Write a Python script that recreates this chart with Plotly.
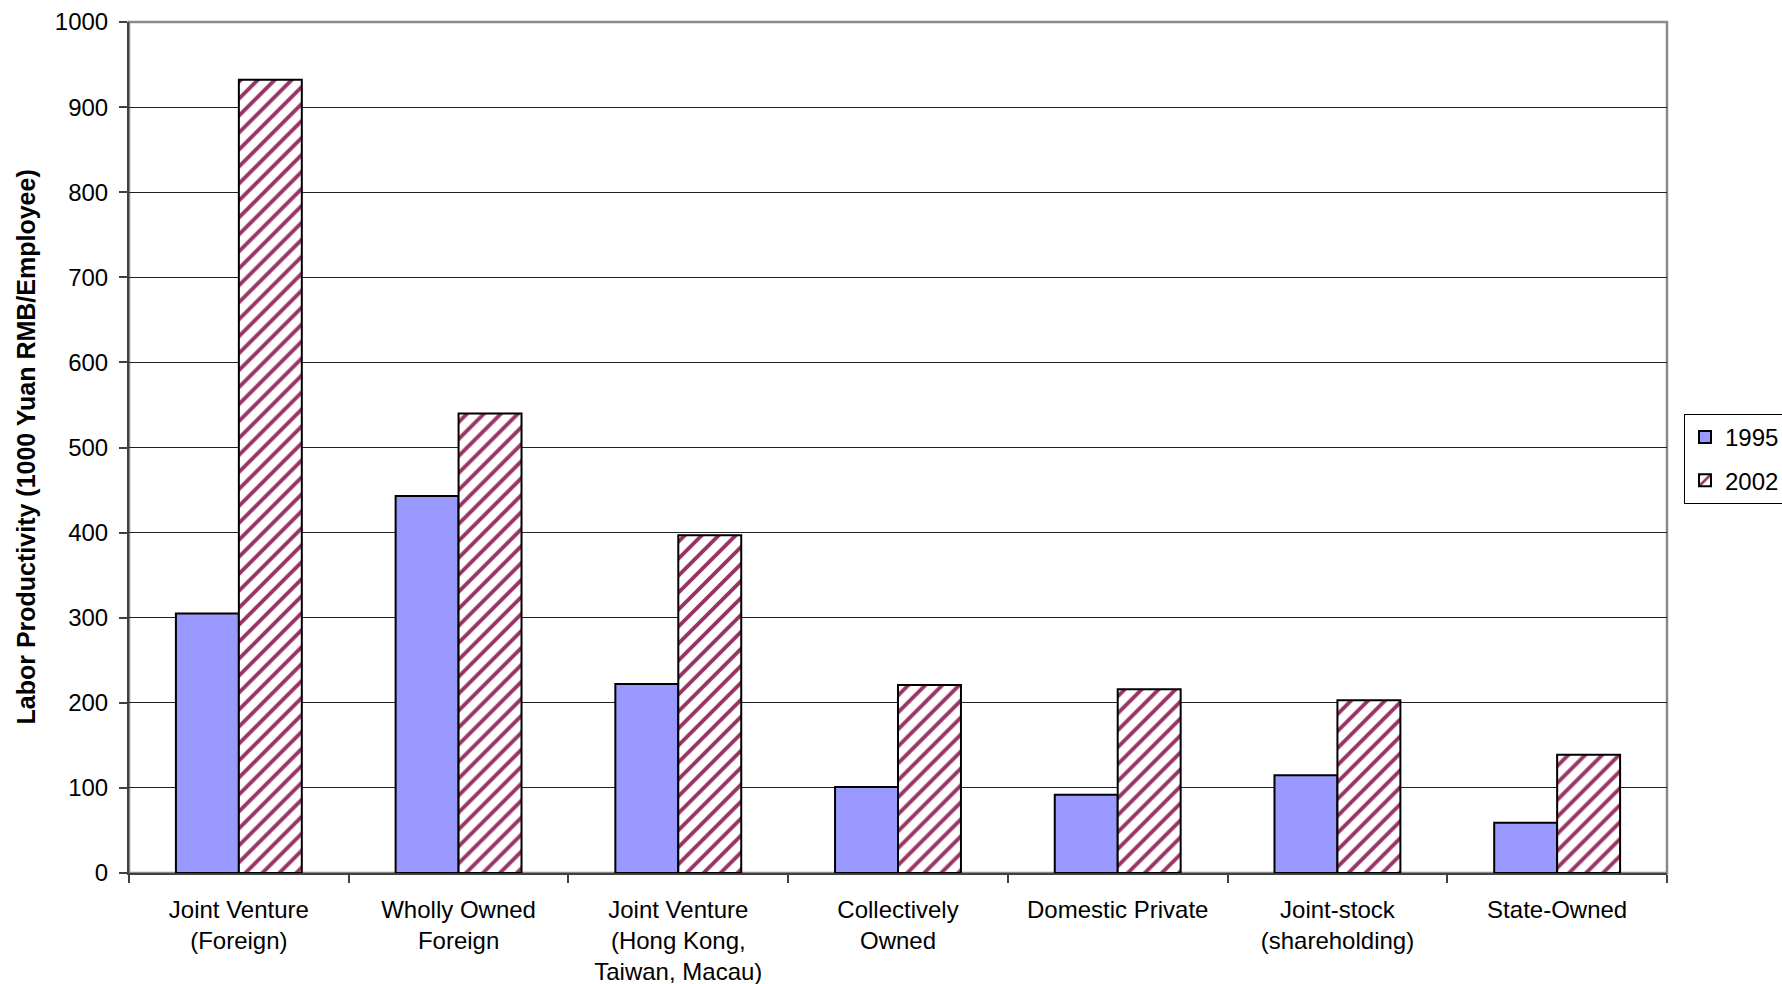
import plotly.graph_objects as go

# Labor productivity by enterprise ownership type (1000 Yuan RMB per employee)
categories = [
    "Joint Venture<br>(Foreign)",
    "Wholly Owned<br>Foreign",
    "Joint Venture<br>(Hong Kong,<br>Taiwan, Macau)",
    "Collectively<br>Owned",
    "Domestic Private",
    "Joint-stock<br>(shareholding)",
    "State-Owned",
]
values_1995 = [305, 443, 222, 101, 92, 115, 59]
values_2002 = [932, 540, 397, 221, 216, 203, 139]

y_ticks = list(range(0, 1001, 100))

W, H = 1782, 984
ML, MR, MT, MB = 129, 115, 22, 111
plot_w = W - ML - MR
plot_h = H - MT - MB

FONT = "Liberation Sans, Arial, sans-serif"

fig = go.Figure()
fig.add_trace(go.Bar(
    name="1995",
    legendgroup="1995",
    x=categories,
    y=values_1995,
    marker=dict(color="#9999FF", line=dict(color="black", width=2)),
))
fig.add_trace(go.Bar(
    name="2002",
    legendgroup="2002",
    x=categories,
    y=values_2002,
    marker=dict(
        color="white",
        line=dict(color="black", width=2),
        pattern=dict(shape="/", fgcolor="#993366", bgcolor="white",
                     size=12, solidity=0.32, fillmode="replace"),
    ),
))

fig.update_layout(
    width=W, height=H,
    margin=dict(l=ML, r=MR, t=MT, b=MB, autoexpand=False),
    paper_bgcolor="white",
    plot_bgcolor="white",
    barmode="group",
    bargap=0.427,
    bargroupgap=0,
    font=dict(family=FONT, size=24, color="black"),
    showlegend=True,
    legend=dict(
        x=(1684 - ML) / plot_w, xanchor="left",
        y=1 - (459 - MT) / plot_h, yanchor="middle",
        bordercolor="black", borderwidth=1,
        bgcolor="white",
        font=dict(family=FONT, size=24, color="black"),
        itemwidth=30,
        traceorder="grouped",
        tracegroupgap=9,
    ),
    xaxis=dict(
        type="category",
        showline=True, linecolor="#404040", linewidth=2,
        ticks="outside", tickson="boundaries", ticklen=8,
        tickcolor="#404040", tickwidth=1.5,
        showgrid=False,
        tickfont=dict(family=FONT, size=24, color="black"),
        ticklabelstandoff=14,
        fixedrange=True,
    ),
    yaxis=dict(
        range=[0, 1000],
        tickvals=y_ticks,
        showline=True, linecolor="#404040", linewidth=2,
        ticks="outside", ticklen=8, tickcolor="#404040", tickwidth=1.5,
        showgrid=True, gridcolor="#222222", gridwidth=1,
        zeroline=False,
        tickfont=dict(family=FONT, size=24, color="black"),
        ticklabelstandoff=6,
        fixedrange=True,
    ),
    shapes=[
        # plot-area frame (top and right edges show in grey)
        dict(type="rect", xref="paper", yref="paper", x0=0, x1=1, y0=0, y1=1,
             line=dict(color="#8a8a8a", width=2.5), layer="below"),
    ],
    annotations=[
        dict(
            text="<b>Labor Productivity (1000 Yuan RMB/Employee)</b>",
            textangle=-90,
            xref="paper", yref="paper",
            x=(25 - ML) / plot_w, y=0.5,
            xanchor="center", yanchor="middle",
            showarrow=False,
            font=dict(family=FONT, size=25, color="black"),
        )
    ],
)

fig.write_html("out.html")
